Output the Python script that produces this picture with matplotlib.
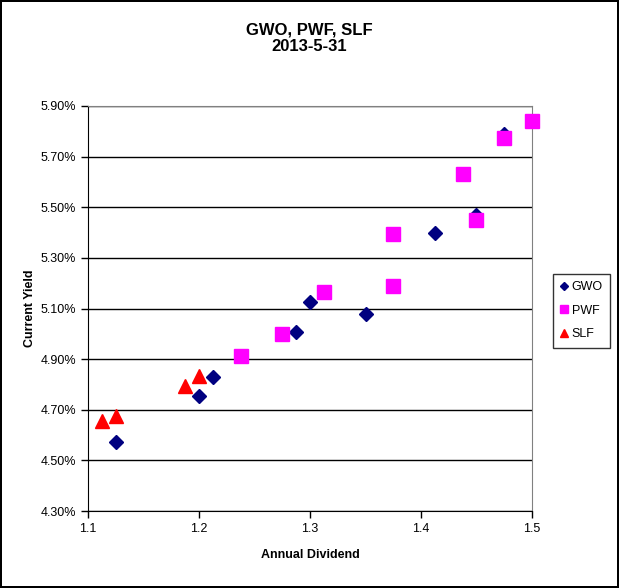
import matplotlib
matplotlib.use('Agg')
import matplotlib.pyplot as plt
from matplotlib.ticker import FuncFormatter, FixedLocator

plt.rcParams['font.family'] = ['Liberation Sans', 'DejaVu Sans']

# annual dividend ($) vs current yield (%)
gwo_div = [1.475, 1.45, 1.4125, 1.30, 1.35, 1.2875, 1.2125, 1.20, 1.125]
gwo_yld = [5.79, 5.47, 5.40, 5.125, 5.078, 5.007, 4.829, 4.753, 4.573]

pwf_div = [1.50, 1.475, 1.4375, 1.45, 1.375, 1.375, 1.3125, 1.275, 1.2375]
pwf_yld = [5.842, 5.774, 5.632, 5.45, 5.395, 5.19, 5.166, 5.00, 4.911]

slf_div = [1.1125, 1.125, 1.1875, 1.20]
slf_yld = [4.654, 4.677, 4.792, 4.832]

x_ticks = [1.1, 1.2, 1.3, 1.4, 1.5]
y_ticks = [4.30, 4.50, 4.70, 4.90, 5.10, 5.30, 5.50, 5.70, 5.90]

fig = plt.figure(figsize=(6.19, 5.88), dpi=100)
fig.patch.set_edgecolor('black')
fig.patch.set_linewidth(1.5)
ax = fig.add_axes([88/619, 1 - 511/588, 444/619, 405/588])

ax.plot(gwo_div, gwo_yld, linestyle='none', marker='D', markersize=7.2,
        color='#000080', label='GWO', zorder=3, clip_on=False)
ax.plot(pwf_div, pwf_yld, linestyle='none', marker='s', markersize=10,
        color='#ff00ff', label='PWF', zorder=4, clip_on=False)
ax.plot(slf_div, slf_yld, linestyle='none', marker='^', markersize=10.5,
        color='#ff0000', label='SLF', zorder=3, clip_on=False)

ax.set_xlim(1.1, 1.5)
ax.set_ylim(4.30, 5.90)
ax.xaxis.set_major_locator(FixedLocator(x_ticks))
ax.yaxis.set_major_locator(FixedLocator(y_ticks))
ax.xaxis.set_major_formatter(FuncFormatter(lambda v, p: '%g' % round(v, 1)))
ax.yaxis.set_major_formatter(FuncFormatter(lambda v, p: '%.2f%%' % v))
ax.grid(axis='y', color='black', linewidth=1)
ax.set_axisbelow(True)
ax.tick_params(labelsize=9, direction='out', length=5, width=1, color='black')

for s in ['top', 'right']:
    ax.spines[s].set_color('#808080')
for s in ['left', 'bottom']:
    ax.spines[s].set_color('black')

ax.set_xlabel('Annual Dividend', fontsize=9, fontweight='bold', labelpad=10)
ax.set_ylabel('Current Yield', fontsize=9, fontweight='bold', labelpad=3)

fig.text(0.5, 1 - 38/588, 'GWO, PWF, SLF\n2013-5-31', ha='center', va='center',
         fontsize=12, fontweight='bold', linespacing=1.15)

leg = fig.legend(loc='upper left', bbox_to_anchor=(553/619, 1 - 274/588),
                 fontsize=9, frameon=True, fancybox=False, markerscale=0.55,
                 handlelength=0.6, handletextpad=0.3, borderpad=0.6,
                 labelspacing=0.9, borderaxespad=0)
leg.get_frame().set_edgecolor('black')
leg.get_frame().set_linewidth(1)

fig.savefig('out.png', dpi=100)
